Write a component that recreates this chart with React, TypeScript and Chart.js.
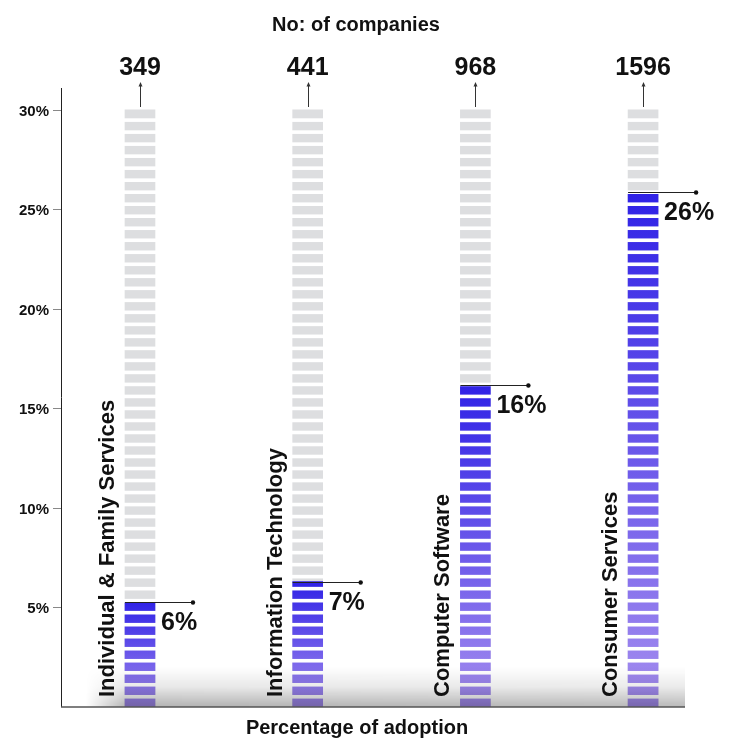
import React, { useEffect, useRef } from "react";
import { Chart, registerables } from "chart.js";

Chart.register(...registerables);

const categories = [
  "Individual & Family Services",
  "Information Technology",
  "Computer Software",
  "Consumer Services",
];
const companyCounts = [349, 441, 968, 1596];
const adoptionLabels = ["6%", "7%", "16%", "26%"];
const adoptionHeights = [5.3, 6.3, 16.2, 25.85];
const trackHeight = 30;
const yTickValues = [5, 10, 15, 20, 25, 30];
const yTickLabels = ["5%", "10%", "15%", "20%", "25%", "30%"];

const FONT = "'Liberation Sans', Arial, sans-serif";
const SEGMENTS = 50;
const SEG_FILL = 0.7;

const overlayPlugin = {
  id: "overlay",
  afterDatasetsDraw(chart: any) {
    const { ctx, chartArea, scales } = chart;
    const x = scales.x;
    const y = scales.y;
    const trackMeta = chart.getDatasetMeta(1);
    const period = trackHeight / (SEGMENTS - 1 + SEG_FILL);
    const y0 = y.getPixelForValue(0);

    ctx.save();
    // white gaps between segments
    ctx.fillStyle = "#ffffff";
    trackMeta.data.forEach((bar: any) => {
      const left = bar.x - bar.width / 2 - 1;
      for (let k = 0; k < SEGMENTS - 1; k++) {
        const vb = k * period + SEG_FILL * period;
        const vt = (k + 1) * period;
        const yt = y.getPixelForValue(vt);
        const yb = y.getPixelForValue(vb);
        ctx.fillRect(left, yt, bar.width + 2, yb - yt);
      }
    });

    // bottom shadow
    const sx0 = 86;
    const sx1 = chartArea.right;
    const sh = 40;
    const w = Math.max(1, Math.round(sx1 - sx0));
    const off = document.createElement("canvas");
    off.width = w;
    off.height = sh;
    const oc = off.getContext("2d")!;
    const vg = oc.createLinearGradient(0, 0, 0, sh);
    vg.addColorStop(0, "rgba(0,0,0,0)");
    vg.addColorStop(0.5, "rgba(0,0,0,0.09)");
    vg.addColorStop(1, "rgba(0,0,0,0.3)");
    oc.fillStyle = vg;
    oc.fillRect(0, 0, w, sh);
    oc.globalCompositeOperation = "destination-in";
    const hg = oc.createLinearGradient(0, 0, w, 0);
    hg.addColorStop(0, "rgba(0,0,0,0)");
    hg.addColorStop(40 / w, "rgba(0,0,0,1)");
    hg.addColorStop(1, "rgba(0,0,0,0.9)");
    oc.fillStyle = hg;
    oc.fillRect(0, 0, w, sh);
    ctx.drawImage(off, sx0, y0 - sh, w, sh);

    // axes
    ctx.strokeStyle = "#222";
    ctx.lineWidth = 1;
    ctx.beginPath();
    ctx.moveTo(chartArea.left + 0.5, chartArea.top);
    ctx.lineTo(chartArea.left + 0.5, y0);
    ctx.stroke();
    ctx.strokeStyle = "#555";
    ctx.lineWidth = 1.5;
    ctx.beginPath();
    ctx.moveTo(chartArea.left, y0);
    ctx.lineTo(chartArea.right, y0);
    ctx.stroke();

    // y ticks
    ctx.font = `bold 15px ${FONT}`;
    ctx.textAlign = "right";
    ctx.textBaseline = "middle";
    yTickValues.forEach((v, i) => {
      const py = Math.round(y.getPixelForValue(v)) + 0.5;
      ctx.strokeStyle = "#888";
      ctx.lineWidth = 1;
      ctx.beginPath();
      ctx.moveTo(chartArea.left - 8, py);
      ctx.lineTo(chartArea.left, py);
      ctx.stroke();
      ctx.fillStyle = "#111";
      ctx.fillText(yTickLabels[i], chartArea.left - 12, py + 1);
    });

    // per-category annotations
    const colMeta = chart.getDatasetMeta(0);
    categories.forEach((name, i) => {
      const bar = colMeta.data[i];
      const cx = x.getPixelForValue(i);
      const left = cx - bar.width / 2;
      const right = cx + bar.width / 2;
      const topY = y.getPixelForValue(adoptionHeights[i]);

      // leader line + dot
      ctx.strokeStyle = "#222";
      ctx.lineWidth = 1;
      ctx.beginPath();
      ctx.moveTo(left, Math.round(topY) + 0.5);
      ctx.lineTo(right + 38, Math.round(topY) + 0.5);
      ctx.stroke();
      ctx.fillStyle = "#111";
      ctx.beginPath();
      ctx.arc(right + 38, Math.round(topY) + 0.5, 2.2, 0, Math.PI * 2);
      ctx.fill();

      // percent label
      ctx.font = `bold 25px ${FONT}`;
      ctx.textAlign = "left";
      ctx.textBaseline = "alphabetic";
      ctx.fillStyle = "#111";
      ctx.fillText(adoptionLabels[i], right + 6, topY + 28);

      // company count + arrow
      ctx.font = `bold 25px ${FONT}`;
      ctx.textAlign = "center";
      ctx.fillText(String(companyCounts[i]), cx, 75);
      const ax = Math.round(cx) + 0.5;
      ctx.strokeStyle = "#333";
      ctx.lineWidth = 1;
      ctx.beginPath();
      ctx.moveTo(ax, 85);
      ctx.lineTo(ax, 107);
      ctx.stroke();
      ctx.fillStyle = "#333";
      ctx.beginPath();
      ctx.moveTo(ax, 82);
      ctx.lineTo(ax - 2, 86.5);
      ctx.lineTo(ax + 2, 86.5);
      ctx.closePath();
      ctx.fill();

      // rotated category label
      ctx.save();
      ctx.translate(left - 11, 697);
      ctx.rotate(-Math.PI / 2);
      ctx.font = `bold 22px ${FONT}`;
      ctx.textAlign = "left";
      ctx.textBaseline = "alphabetic";
      ctx.fillStyle = "#111";
      ctx.fillText(name, 0, 0);
      ctx.restore();
    });

    // titles
    ctx.font = `bold 20px ${FONT}`;
    ctx.textAlign = "center";
    ctx.textBaseline = "alphabetic";
    ctx.fillStyle = "#111";
    ctx.fillText("No: of companies", 356, 31);
    ctx.fillText("Percentage of adoption", 357, 734);
    ctx.restore();
  },
};

export default function App() {
  const ref = useRef<HTMLCanvasElement | null>(null);

  useEffect(() => {
    if (!ref.current) return;
    const chart = new Chart(ref.current, {
      type: "bar",
      data: {
        datasets: [
          {
            label: "Adoption",
            data: adoptionHeights.map((v, i) => ({ x: i, y: v })),
            backgroundColor: (c: any) => {
              const ch = c.chart;
              if (!ch.chartArea || c.dataIndex == null) return "#5a48ea";
              const ys = ch.scales.y;
              const v = adoptionHeights[c.dataIndex];
              const t = ys.getPixelForValue(v);
              const b = ys.getPixelForValue(0);
              const g = ch.ctx.createLinearGradient(0, t, 0, b);
              g.addColorStop(0, "#2f22e6");
              g.addColorStop(0.5, "#6a57ea");
              g.addColorStop(1, "#a58eef");
              return g;
            },
            barThickness: 30,
            grouped: false,
            borderWidth: 0,
          } as any,
          {
            label: "Track",
            data: categories.map((_, i) => ({ x: i, y: trackHeight })),
            backgroundColor: "#dddee0",
            barThickness: 30,
            grouped: false,
            borderWidth: 0,
          } as any,
        ],
      },
      options: {
        animation: false,
        responsive: false,
        events: [],
        layout: { padding: { left: 61, right: 65, top: 88, bottom: 43 } },
        plugins: { legend: { display: false }, tooltip: { enabled: false } },
        scales: {
          x: { type: "linear", min: -0.471, max: 3.25, offset: false, display: false, grid: { offset: false } },
          y: { type: "linear", min: 0, max: 31.1, display: false },
        },
      },
      plugins: [overlayPlugin],
    });
    return () => chart.destroy();
  }, []);

  return (
    <div style={{ position: "fixed", left: 0, top: 0, width: 750, height: 750, background: "#fff" }}>
      <canvas ref={ref} width={750} height={750} style={{ display: "block" }} />
    </div>
  );
}
